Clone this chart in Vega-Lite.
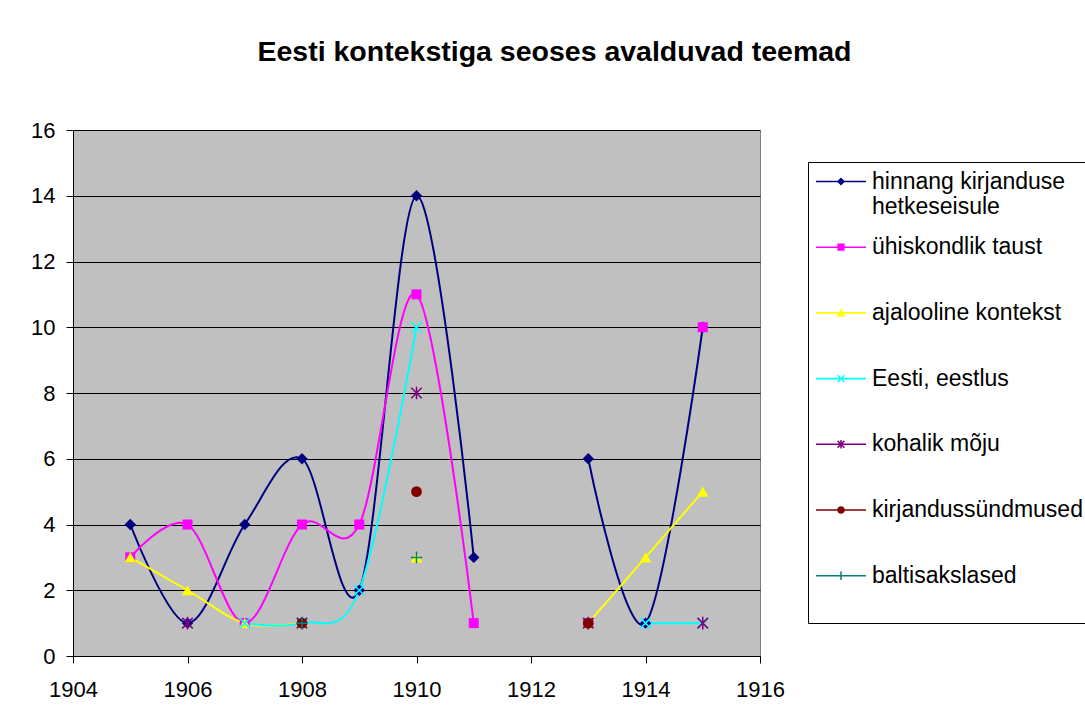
{
  "$schema": "https://vega.github.io/schema/vega-lite/v6.json",
  "width": 687,
  "height": 526,
  "autosize": {"type": "none"},
  "padding": {"left": 73, "top": 130, "right": 325, "bottom": 68},
  "background": "white",
  "title": {
    "text": "Eesti kontekstiga seoses avalduvad teemad",
    "font": "Liberation Sans",
    "fontSize": 28.5,
    "fontWeight": "bold",
    "color": "black",
    "anchor": "middle",
    "frame": "group",
    "dx": 138,
    "offset": 53
  },
  "datasets": {
    "rows": [
      {"series": "hinnang kirjanduse hetkeseisule", "year": 1905, "value": 4},
      {"series": "hinnang kirjanduse hetkeseisule", "year": 1906, "value": 1},
      {"series": "hinnang kirjanduse hetkeseisule", "year": 1907, "value": 4},
      {"series": "hinnang kirjanduse hetkeseisule", "year": 1908, "value": 6},
      {"series": "hinnang kirjanduse hetkeseisule", "year": 1909, "value": 2},
      {"series": "hinnang kirjanduse hetkeseisule", "year": 1910, "value": 14},
      {"series": "hinnang kirjanduse hetkeseisule", "year": 1911, "value": 3},
      {"series": "hinnang kirjanduse hetkeseisule", "year": 1912, "value": null},
      {"series": "hinnang kirjanduse hetkeseisule", "year": 1913, "value": 6},
      {"series": "hinnang kirjanduse hetkeseisule", "year": 1914, "value": 1},
      {"series": "hinnang kirjanduse hetkeseisule", "year": 1915, "value": 10},
      {"series": "ühiskondlik taust", "year": 1905, "value": 3},
      {"series": "ühiskondlik taust", "year": 1906, "value": 4},
      {"series": "ühiskondlik taust", "year": 1907, "value": 1},
      {"series": "ühiskondlik taust", "year": 1908, "value": 4},
      {"series": "ühiskondlik taust", "year": 1909, "value": 4},
      {"series": "ühiskondlik taust", "year": 1910, "value": 11},
      {"series": "ühiskondlik taust", "year": 1911, "value": 1},
      {"series": "ühiskondlik taust", "year": 1912, "value": null},
      {"series": "ühiskondlik taust", "year": 1913, "value": 1},
      {"series": "ühiskondlik taust", "year": 1914, "value": null},
      {"series": "ühiskondlik taust", "year": 1915, "value": 10},
      {"series": "ajalooline kontekst", "year": 1905, "value": 3},
      {"series": "ajalooline kontekst", "year": 1906, "value": 2},
      {"series": "ajalooline kontekst", "year": 1907, "value": 1},
      {"series": "ajalooline kontekst", "year": 1908, "value": 1},
      {"series": "ajalooline kontekst", "year": 1909, "value": null},
      {"series": "ajalooline kontekst", "year": 1910, "value": 3},
      {"series": "ajalooline kontekst", "year": 1911, "value": null},
      {"series": "ajalooline kontekst", "year": 1912, "value": null},
      {"series": "ajalooline kontekst", "year": 1913, "value": 1},
      {"series": "ajalooline kontekst", "year": 1914, "value": 3},
      {"series": "ajalooline kontekst", "year": 1915, "value": 5},
      {"series": "Eesti, eestlus", "year": 1906, "value": null},
      {"series": "Eesti, eestlus", "year": 1907, "value": 1},
      {"series": "Eesti, eestlus", "year": 1908, "value": 1},
      {"series": "Eesti, eestlus", "year": 1909, "value": 2},
      {"series": "Eesti, eestlus", "year": 1910, "value": 10},
      {"series": "Eesti, eestlus", "year": 1911, "value": null},
      {"series": "Eesti, eestlus", "year": 1913, "value": null},
      {"series": "Eesti, eestlus", "year": 1914, "value": 1},
      {"series": "Eesti, eestlus", "year": 1915, "value": 1},
      {"series": "kohalik mõju", "year": 1906, "value": 1},
      {"series": "kohalik mõju", "year": 1907, "value": null},
      {"series": "kohalik mõju", "year": 1908, "value": 1},
      {"series": "kohalik mõju", "year": 1909, "value": null},
      {"series": "kohalik mõju", "year": 1910, "value": 8},
      {"series": "kohalik mõju", "year": 1911, "value": null},
      {"series": "kohalik mõju", "year": 1913, "value": 1},
      {"series": "kohalik mõju", "year": 1914, "value": null},
      {"series": "kohalik mõju", "year": 1915, "value": 1},
      {"series": "kirjandussündmused", "year": 1908, "value": 1},
      {"series": "kirjandussündmused", "year": 1909, "value": null},
      {"series": "kirjandussündmused", "year": 1910, "value": 5},
      {"series": "kirjandussündmused", "year": 1911, "value": null},
      {"series": "kirjandussündmused", "year": 1913, "value": 1},
      {"series": "baltisakslased", "year": 1908, "value": 1},
      {"series": "baltisakslased", "year": 1909, "value": null},
      {"series": "baltisakslased", "year": 1910, "value": 3}
    ]
  },
  "data": {"name": "rows"},
  "encoding": {
    "x": {
      "field": "year",
      "type": "quantitative",
      "scale": {"domain": [1904, 1916], "nice": false, "zero": false},
      "axis": {
        "title": null,
        "values": [1904, 1906, 1908, 1910, 1912, 1914, 1916],
        "format": "d",
        "grid": false,
        "labelFlush": false,
        "labelOverlap": false,
        "labelPadding": 16,
        "tickSize": 7
      }
    },
    "y": {
      "field": "value",
      "type": "quantitative",
      "scale": {"domain": [0, 16], "nice": false},
      "axis": {
        "title": null,
        "values": [0, 2, 4, 6, 8, 10, 12, 14, 16],
        "grid": true,
        "gridColor": "black",
        "gridOpacity": 1,
        "gridWidth": 1,
        "labelFlush": false,
        "labelPadding": 11,
        "tickSize": 7
      }
    },
    "color": {
      "field": "series",
      "type": "nominal",
      "sort": null,
      "scale": {
        "domain": ["hinnang kirjanduse hetkeseisule", "ühiskondlik taust", "ajalooline kontekst", "Eesti, eestlus", "kohalik mõju", "kirjandussündmused", "baltisakslased"],
        "range": ["#000080", "#FF00FF", "#FFFF00", "#00FFFF", "#800080", "#800000", "#008080"]
      },
      "legend": {
        "orient": "none",
        "legendX": 735,
        "legendY": 32,
        "title": null,
        "padding": 8,
        "strokeColor": "black",
        "fillColor": "white",
        "rowPadding": 13.7,
        "symbolSize": 64,
        "symbolOpacity": 1,
        "symbolStrokeWidth": 0,
        "labelOffset": 33,
        "labelLimit": 500,
        "labelFont": "Liberation Sans",
        "labelFontSize": 23,
        "labelColor": "black",
        "labelExpr": "datum.label == 'hinnang kirjanduse hetkeseisule' ? ['hinnang kirjanduse', 'hetkeseisule'] : datum.label"
      }
    }
  },
  "layer": [
    {
      "mark": {"type": "line", "interpolate": "cardinal", "tension": 0, "strokeWidth": 2}
    },
    {
      "transform": [{"filter": "datum.series == 'hinnang kirjanduse hetkeseisule'"}],
      "mark": {"type": "point", "shape": "diamond", "filled": true, "size": 130, "strokeWidth": 0, "opacity": 1}
    },
    {
      "transform": [{"filter": "datum.series == 'ühiskondlik taust'"}],
      "mark": {"type": "point", "shape": "square", "filled": true, "size": 100, "strokeWidth": 0, "opacity": 1}
    },
    {
      "transform": [{"filter": "datum.series == 'ajalooline kontekst'"}],
      "mark": {"type": "point", "shape": "triangle-up", "filled": true, "size": 135, "strokeWidth": 0, "opacity": 1}
    },
    {
      "transform": [{"filter": "datum.series == 'Eesti, eestlus'"}],
      "mark": {"type": "point", "shape": "M-1,-1L1,1M-1,1L1,-1", "filled": false, "size": 110, "strokeWidth": 1.5, "opacity": 1}
    },
    {
      "transform": [{"filter": "datum.series == 'kohalik mõju'"}],
      "mark": {"type": "point", "shape": "M-1,-1L1,1M-1,1L1,-1M0,-1.2L0,1.2", "filled": false, "size": 110, "strokeWidth": 1.5, "opacity": 1}
    },
    {
      "transform": [{"filter": "datum.series == 'kirjandussündmused'"}],
      "mark": {"type": "point", "shape": "circle", "filled": true, "size": 115, "strokeWidth": 0, "opacity": 1}
    },
    {
      "transform": [{"filter": "datum.series == 'baltisakslased'"}],
      "mark": {"type": "point", "shape": "M-1.1,0L1.1,0M0,-1.1L0,1.1", "filled": false, "size": 110, "strokeWidth": 1.5, "opacity": 1}
    },
    {
      "transform": [{"filter": "isValid(datum.value)"}],
      "mark": {"type": "point", "filled": true, "opacity": 0},
      "encoding": {
        "shape": {
          "field": "series",
          "type": "nominal",
          "sort": null,
          "scale": {
            "domain": ["hinnang kirjanduse hetkeseisule", "ühiskondlik taust", "ajalooline kontekst", "Eesti, eestlus", "kohalik mõju", "kirjandussündmused", "baltisakslased"],
            "range": [
              "M-2.875,-3M-2.875,9.75M-2.875,-0.2H9.625V0.2H-2.875ZM3.375,-1L4.375,0L3.375,1L2.375,0Z",
              "M-2.875,-3M-2.875,9.75M-2.875,-0.2H9.625V0.2H-2.875ZM2.475,-0.9H4.275V0.9H2.475Z",
              "M-2.875,-3M-2.875,9.75M-2.875,-0.2H9.625V0.2H-2.875ZM3.375,-1.05L4.475,0.9H2.275Z",
              "M-2.875,-3M-2.875,9.75M-2.875,-0.2H9.625V0.2H-2.875ZM2.659,-0.984L4.359,0.716L4.091,0.984L2.391,-0.716ZM2.391,0.716L4.091,-0.984L4.359,-0.716L2.659,0.984Z",
              "M-2.875,-3M-2.875,9.75M-2.875,-0.2H9.625V0.2H-2.875ZM2.659,-0.984L4.359,0.716L4.091,0.984L2.391,-0.716ZM2.391,0.716L4.091,-0.984L4.359,-0.716L2.659,0.984ZM3.185,-1.05H3.565V1.05H3.185Z",
              "M-2.875,-3M-2.875,9.75M-2.875,-0.2H9.625V0.2H-2.875ZM2.425,0A0.95,0.95 0 1,1 4.325,0A0.95,0.95 0 1,1 2.425,0Z",
              "M-2.875,-3M-2.875,9.75M-2.875,-0.2H9.625V0.2H-2.875ZM3.185,-1.05H3.565V1.05H3.185Z"
            ]
          },
          "legend": {
            "orient": "none",
            "legendX": 735,
            "legendY": 32,
            "title": null,
            "padding": 8,
            "strokeColor": "black",
            "fillColor": "white",
            "rowPadding": 13.7,
            "symbolSize": 64,
            "symbolOpacity": 1,
            "symbolStrokeWidth": 0,
            "labelOffset": 33,
            "labelLimit": 500,
            "labelFont": "Liberation Sans",
            "labelFontSize": 23,
            "labelColor": "black",
            "labelExpr": "datum.label == 'hinnang kirjanduse hetkeseisule' ? ['hinnang kirjanduse', 'hetkeseisule'] : datum.label"
          }
        }
      }
    }
  ],
  "config": {
    "view": {"fill": "#C0C0C0", "stroke": "#808080", "strokeWidth": 1},
    "axis": {
      "labelFont": "Liberation Sans",
      "labelFontSize": 22,
      "labelColor": "black",
      "domainColor": "black",
      "domainWidth": 1,
      "tickColor": "black",
      "tickWidth": 1
    }
  }
}
